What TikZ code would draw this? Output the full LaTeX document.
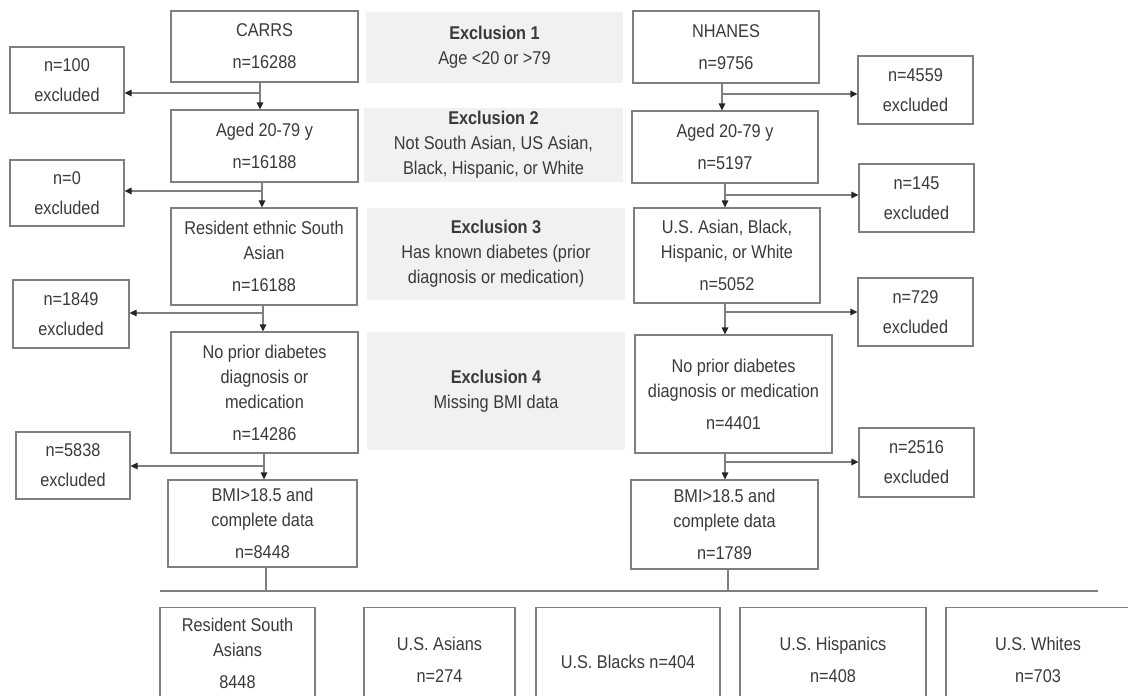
\documentclass[tikz,border=0pt]{standalone}
\usepackage{fontspec}
\setmainfont{Liberation Sans}[FakeStretch=0.88]
\usetikzlibrary{arrows.meta}
\definecolor{txt}{HTML}{3A3A3A}
\definecolor{edge}{HTML}{7F7F7F}
\definecolor{greyfill}{HTML}{F1F1F1}
\begin{document}
\begin{tikzpicture}[x=1pt,y=-1pt,
  every node/.style={font=\fontsize{18.5}{25}\selectfont, text=txt, align=center, inner sep=0pt},
  box/.style={draw=edge, line width=1.2pt, fill=white},
  greybox/.style={fill=greyfill, draw=none},
  conn/.style={draw=edge, line width=1.2pt},
  arr/.style={conn, -{Triangle[length=7pt,width=6.5pt,color=black!85]}}]
\useasboundingbox (0,0) rectangle (1128,696);
\clip (0,0) rectangle (1128,696);
\fill[white] (0,0) rectangle (1128,696);

% grey exclusion panels
\node[greybox, minimum width=257pt, minimum height=71pt] (exc1) at (494.5,47.5) {\textbf{Exclusion 1}\\Age <20 or >79};
\node[greybox, minimum width=259pt, minimum height=74pt] (exc2) at (493.5,145) {\textbf{Exclusion 2}\\Not South Asian, US Asian,\\Black, Hispanic, or White};
\node[greybox, minimum width=258pt, minimum height=92pt] (exc3) at (496,254) {\textbf{Exclusion 3}\\Has known diabetes (prior\\diagnosis or medication)};
\node[greybox, minimum width=258pt, minimum height=118pt] (exc4) at (496,391) {\textbf{Exclusion 4}\\Missing BMI data};

% left column (CARRS)
\node[box, minimum width=187pt, minimum height=71pt] (carrs) at (264.5,46.5) {CARRS\\[7pt]n=16288};
\node[box, minimum width=187pt, minimum height=72pt] (agedL) at (264.5,146) {Aged 20-79 y\\[7pt]n=16188};
\node[box, minimum width=186pt, minimum height=97pt] (resL) at (264,256.5) {Resident ethnic South\\Asian\\[7pt]n=16188};
\node[box, minimum width=187pt, minimum height=121pt] (noL) at (264.5,392.5) {No prior diabetes\\diagnosis or\\medication\\[7pt]n=14286};
\node[box, minimum width=189pt, minimum height=87pt] (bmiL) at (262.5,523.5) {BMI>18.5 and\\complete data\\[7pt]n=8448};

\node[box, minimum width=114pt, minimum height=66pt] (xL1) at (67,80) {n=100\\[5pt]excluded};
\node[box, minimum width=114pt, minimum height=66pt] (xL2) at (67,193) {n=0\\[5pt]excluded};
\node[box, minimum width=116pt, minimum height=68pt] (xL3) at (71,314) {n=1849\\[5pt]excluded};
\node[box, minimum width=114pt, minimum height=67pt] (xL4) at (73,465.5) {n=5838\\[5pt]excluded};

% right column (NHANES)
\node[box, minimum width=186pt, minimum height=72pt] (nhanes) at (726,47) {NHANES\\[7pt]n=9756};
\node[box, minimum width=186pt, minimum height=72pt] (agedR) at (725,147) {Aged 20-79 y\\[7pt]n=5197};
\node[box, minimum width=186pt, minimum height=95pt] (usR) at (727,255.5) {U.S. Asian, Black,\\Hispanic, or White\\[7pt]n=5052};
\node[box, minimum width=197pt, minimum height=118pt] (noR) at (733.5,394) {No prior diabetes\\diagnosis or medication\\[7pt]n=4401};
\node[box, minimum width=187pt, minimum height=89pt] (bmiR) at (724.5,524.5) {BMI>18.5 and\\complete data\\[7pt]n=1789};

\node[box, minimum width=115pt, minimum height=68pt] (xR1) at (915.5,90) {n=4559\\[5pt]excluded};
\node[box, minimum width=115pt, minimum height=68pt] (xR2) at (916.5,198) {n=145\\[5pt]excluded};
\node[box, minimum width=115pt, minimum height=68pt] (xR3) at (915.5,312) {n=729\\[5pt]excluded};
\node[box, minimum width=115pt, minimum height=69pt] (xR4) at (916.5,462.5) {n=2516\\[5pt]excluded};

% left connectors
\coordinate (l1) at (260,93);
\coordinate (l2) at (262,191);
\coordinate (l3) at (263,313);
\coordinate (l4) at (264,466);
\draw[conn] (carrs.south -| l1) -- (l1);
\draw[arr] (l1) -- (l1 |- agedL.north);
\draw[arr] (l1) -- (l1 -| xL1.east);
\draw[conn] (agedL.south -| l2) -- (l2);
\draw[arr] (l2) -- (l2 |- resL.north);
\draw[arr] (l2) -- (l2 -| xL2.east);
\draw[conn] (resL.south -| l3) -- (l3);
\draw[arr] (l3) -- (l3 |- noL.north);
\draw[arr] (l3) -- (l3 -| xL3.east);
\draw[conn] (noL.south -| l4) -- (l4);
\draw[arr] (l4) -- (l4 |- bmiL.north);
\draw[arr] (l4) -- (l4 -| xL4.east);

% right connectors
\coordinate (r1) at (722,94);
\coordinate (r2) at (725,195);
\coordinate (r3) at (725,312);
\coordinate (r4) at (725,462);
\draw[conn] (nhanes.south -| r1) -- (r1);
\draw[arr] (r1) -- (r1 |- agedR.north);
\draw[arr] (r1) -- (r1 -| xR1.west);
\draw[conn] (agedR.south -| r2) -- (r2);
\draw[arr] (r2) -- (r2 |- usR.north);
\draw[arr] (r2) -- (r2 -| xR2.west);
\draw[conn] (usR.south -| r3) -- (r3);
\draw[arr] (r3) -- (r3 |- noR.north);
\draw[arr] (r3) -- (r3 -| xR3.west);
\draw[conn] (noR.south -| r4) -- (r4);
\draw[arr] (r4) -- (r4 |- bmiR.north);
\draw[arr] (r4) -- (r4 -| xR4.west);

% bottom split
\coordinate (hl) at (160,591);
\coordinate (hr) at (1098,591);
\coordinate (vl) at (266,591);
\coordinate (vr) at (728,591);
\draw[conn] (hl) -- (hr);
\draw[conn] (bmiL.south -| vl) -- (vl);
\draw[conn] (bmiR.south -| vr) -- (vr);

% bottom groups
\node[box, minimum width=155pt, minimum height=92pt, anchor=north] (gRSA) at (237.5,607) {Resident South\\Asians\\[7pt]8448};
\node[box, minimum width=151pt, minimum height=104pt, anchor=north] (gAs) at (439.5,607) {U.S. Asians\\[7pt]n=274};
\node[box, minimum width=184pt, minimum height=108pt, anchor=north] (gBl) at (628,607) {U.S. Blacks n=404};
\node[box, minimum width=186pt, minimum height=104pt, anchor=north] (gHi) at (833,607) {U.S. Hispanics\\[7pt]n=408};
\node[box, minimum width=184pt, minimum height=104pt, anchor=north] (gWh) at (1038,607) {U.S. Whites\\[7pt]n=703};
\end{tikzpicture}
\end{document}
